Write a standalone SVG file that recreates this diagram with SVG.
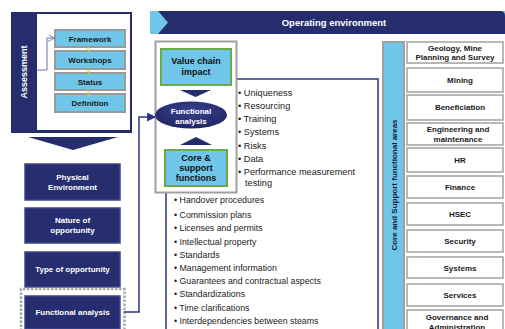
<svg xmlns="http://www.w3.org/2000/svg" width="505" height="329" viewBox="0 0 505 329">
<style>
text{font-family:"Liberation Sans",Arial,sans-serif}
.nv{fill:#262d6d}
.lb{fill:#6fc6e9}
.step{fill:#6fc6e9;stroke:#9a9a9a;stroke-width:2}
.stept{font-size:8px;font-weight:bold;fill:#1a1a1a;text-anchor:middle}
.lbox{fill:#272e70;stroke:#3d4690;stroke-width:1.5}
.lt{font-size:8px;font-weight:bold;fill:#fff;text-anchor:middle}
.gbox{fill:#6fc6e9;stroke:#6aaa48;stroke-width:2}
.gt{font-size:9px;font-weight:bold;fill:#111;text-anchor:middle}
.rbox{fill:#fff;stroke:#a0a0a0;stroke-width:1.5}
.rt{font-size:8px;font-weight:bold;fill:#1a1a1a;text-anchor:middle}
.bl{font-size:9.2px;fill:#1a1a1a}
.bl2{font-size:8.8px;fill:#1a1a1a}
.conn{fill:none;stroke:#2b3380;stroke-width:1.5}
.yarr{stroke:#c8d43a;stroke-width:1;fill:none}
</style>
<defs>
<marker id="ah" viewBox="0 0 8 8" refX="7" refY="4" markerWidth="6" markerHeight="6" orient="auto"><path d="M0,0 L8,4 L0,8 z" fill="#2b3380"/></marker>
<marker id="ah2" viewBox="0 0 8 8" refX="7" refY="4" markerWidth="7" markerHeight="7" orient="auto"><path d="M0,0 L8,4 L0,8" fill="none" stroke="#6a70a8" stroke-width="1"/></marker>
<marker id="ya" viewBox="0 0 8 8" refX="4" refY="7" markerWidth="5" markerHeight="5" orient="auto"><path d="M0,2 L4,7 L8,2" fill="none" stroke="#c8d43a" stroke-width="1.3"/></marker>
<radialGradient id="eg" cx="0.5" cy="0.35" r="0.7"><stop offset="0" stop-color="#3a4290"/><stop offset="1" stop-color="#1e2460"/></radialGradient>
</defs>

<g id="assessment">
<rect x="11" y="12" width="121" height="121" class="nv"/>
<rect x="37" y="14" width="93" height="116" fill="#fff"/>
<text transform="translate(27,72) rotate(-90)" font-size="9" font-weight="bold" fill="#fff" text-anchor="middle">Assessment</text>
</g>
<g id="framework"><rect x="55" y="30" width="70" height="17" class="step"/><text x="90" y="41.5" class="stept">Framework</text></g>
<g id="workshops"><rect x="55" y="51" width="70" height="18" class="step"/><text x="90" y="63" class="stept">Workshops</text></g>
<g id="status"><rect x="55" y="73" width="70" height="17" class="step"/><text x="90" y="84.5" class="stept">Status</text></g>
<g id="definition"><rect x="55" y="94" width="70" height="18" class="step"/><text x="90" y="106" class="stept">Definition</text></g>

<g id="chevron-down"><polygon points="28,137 118,137 73,150" class="nv"/></g>

<g id="physical"><rect x="25" y="164" width="95" height="36" class="lbox"/><text x="72.5" y="180" class="lt">Physical</text><text x="72.5" y="190" class="lt">Environment</text></g>
<g id="nature"><rect x="25" y="208" width="95" height="35" class="lbox"/><text x="72.5" y="223" class="lt">Nature of</text><text x="72.5" y="233" class="lt">opportunity</text></g>
<g id="type"><rect x="25" y="252" width="95" height="35" class="lbox"/><text x="72.5" y="272" class="lt">Type of opportunity</text></g>
<g id="funcleft"><rect x="25" y="296" width="95" height="33" class="lbox"/><text x="72.5" y="315" class="lt">Functional analysis</text>
<path d="M21,331 V289 H124.5 V331" fill="none" stroke="#a8a8a8" stroke-width="2.5" stroke-dasharray="2.5,1.5"/></g>

<g id="header">
<rect x="150" y="11" width="355" height="23" class="lb"/>
<path d="M158,11 H500 Q505,11 505,16 V34 H158 L168,22.5 Z" class="nv"/>
<text x="334" y="26" font-size="9.5" font-weight="bold" fill="#fff" text-anchor="middle">Operating environment</text>
</g>

<g id="listbox">
<rect x="166" y="79" width="212" height="260" fill="#fff" stroke="#2b3380" stroke-width="1.5"/>
<text class="bl"><tspan x="238" y="96">• Uniqueness</tspan><tspan x="238" y="109">• Resourcing</tspan><tspan x="238" y="122">• Training</tspan><tspan x="238" y="135">• Systems</tspan><tspan x="238" y="148.5">• Risks</tspan><tspan x="238" y="161.5">• Data</tspan><tspan x="238" y="174.5">• Performance measurement</tspan><tspan x="245" y="186">testing</tspan></text>
<text class="bl2"><tspan x="174" y="203">• Handover procedures</tspan><tspan x="174" y="218">• Commission plans</tspan><tspan x="174" y="230.5">• Licenses and permits</tspan><tspan x="174" y="245">• Intellectual property</tspan><tspan x="174" y="258">• Standards</tspan><tspan x="174" y="271">• Management information</tspan><tspan x="174" y="284">• Guarantees and contractual aspects</tspan><tspan x="174" y="297">• Standardizations</tspan><tspan x="174" y="311">• Time clarifications</tspan><tspan x="174" y="323.5">• Interdependencies between steams</tspan></text>
</g>

<g id="graybox"><rect x="155.5" y="41.5" width="81" height="151" fill="#fff" stroke="#a0a0a0" stroke-width="2"/></g>
<g id="valuechain"><rect x="161" y="49" width="70" height="36" class="gbox"/><text x="196" y="64" class="gt">Value chain</text><text x="196" y="75" class="gt">impact</text></g>
<g id="tri-down"><polygon points="180,90 211,90 195.5,97" class="nv"/></g>
<g id="funcellipse"><ellipse cx="191" cy="115" rx="36" ry="13.5" fill="url(#eg)"/><text x="191" y="114" class="lt" font-size="8.5">Functional</text><text x="191" y="124" class="lt" font-size="8.5">analysis</text></g>
<g id="tri-up"><polygon points="180,145 212,145 196,137" class="nv"/></g>
<g id="coresupport"><rect x="165" y="150" width="62" height="36" class="gbox"/><text x="196" y="161" class="gt">Core &amp;</text><text x="196" y="171" class="gt">support</text><text x="196" y="181" class="gt">functions</text></g>

<g id="coreareas">
<rect x="383" y="42" width="21" height="300" fill="#6fc6e9" stroke="#a0a0a0" stroke-width="2"/>
<text transform="translate(396.5,185) rotate(-90)" font-size="8" font-weight="bold" fill="#1a1a3a" text-anchor="middle">Core and Support functional areas</text>
</g>
<g id="geology"><rect x="407" y="42" width="96" height="21" class="rbox"/><text x="455" y="51" class="rt">Geology, Mine</text><text x="455" y="60" class="rt">Planning and Survey</text></g>
<g id="mining"><rect x="407" y="68" width="96" height="24" class="rbox"/><text x="460" y="83" class="rt">Mining</text></g>
<g id="beneficiation"><rect x="407" y="95" width="96" height="25" class="rbox"/><text x="460" y="110" class="rt">Beneficiation</text></g>
<g id="engineering"><rect x="407" y="123" width="96" height="22" class="rbox"/><text x="458" y="132" class="rt">Engineering and</text><text x="458" y="142" class="rt">maintenance</text></g>
<g id="hr"><rect x="407" y="148" width="96" height="24" class="rbox"/><text x="460" y="163" class="rt">HR</text></g>
<g id="finance"><rect x="407" y="176" width="96" height="22" class="rbox"/><text x="460" y="190" class="rt">Finance</text></g>
<g id="hsec"><rect x="407" y="203" width="96" height="22" class="rbox"/><text x="460" y="217" class="rt">HSEC</text></g>
<g id="security"><rect x="407" y="230" width="96" height="22" class="rbox"/><text x="460" y="244" class="rt">Security</text></g>
<g id="systems"><rect x="407" y="257" width="96" height="21" class="rbox"/><text x="460" y="271" class="rt">Systems</text></g>
<g id="services"><rect x="407" y="284" width="96" height="22" class="rbox"/><text x="460" y="298" class="rt">Services</text></g>
<g id="governance"><rect x="407" y="310" width="96" height="25" class="rbox"/><text x="457" y="320" class="rt">Governance and</text><text x="457" y="330" class="rt">Administration</text></g>

<g id="connectors">
<path d="M37,70 H47 V38 H54" fill="none" stroke="#6a70a8" stroke-width="1" marker-end="url(#ah2)"/>
<line x1="88" y1="47" x2="88" y2="51" class="yarr" marker-end="url(#ya)"/>
<line x1="88" y1="69" x2="88" y2="73" class="yarr" marker-end="url(#ya)"/>
<line x1="88" y1="90" x2="88" y2="94" class="yarr" marker-end="url(#ya)"/>
<path d="M124,312 H139 V117 H155" class="conn" marker-end="url(#ah)"/>
</g>
</svg>
